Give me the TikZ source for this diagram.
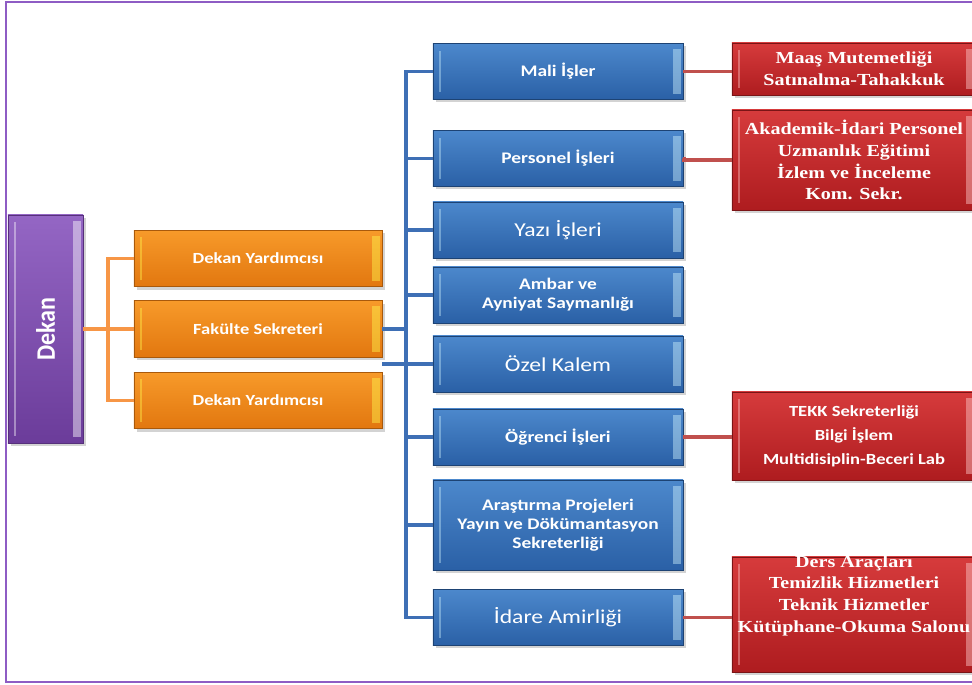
\documentclass[tikz,border=0pt]{standalone}
\usepackage{fontspec}
\setmainfont{Carlito}[FakeStretch=1.2]
\newfontfamily\serifbox{Liberation Serif}[FakeStretch=1.19]
\newfontfamily\dekanfont{Carlito}[FakeStretch=0.9]
\usetikzlibrary{shadows}

\definecolor{frameViolet}{HTML}{8E5CC4}
\definecolor{dekanTop}{HTML}{9466C4}
\definecolor{dekanBot}{HTML}{6B3C9A}
\definecolor{orTop}{HTML}{F79A2A}
\definecolor{orBot}{HTML}{E2770F}
\definecolor{orLine}{HTML}{F79646}
\definecolor{blTop}{HTML}{4C88CC}
\definecolor{blBot}{HTML}{2A60A6}
\definecolor{blLine}{HTML}{3E6FB5}
\definecolor{rdTop}{HTML}{D63B3C}
\definecolor{rdBot}{HTML}{AE1C1F}
\definecolor{rdLine}{HTML}{C0504D}

\tikzset{
  bevel/.style={path picture={
    \fill[#1, opacity=0.4] ([xshift=4pt,yshift=-5pt]path picture bounding box.north west) rectangle ([xshift=5.5pt,yshift=5pt]path picture bounding box.south west);
    \fill[#1, opacity=0.45] ([xshift=-7pt,yshift=-4pt]path picture bounding box.north east) rectangle ([xshift=-1.5pt,yshift=4pt]path picture bounding box.south east);
  }},
  box/.style={rectangle, text=white, align=center, inner sep=2pt, line width=0.6pt,
    drop shadow={opacity=0.35, shadow xshift=2pt, shadow yshift=-2pt}},
  purplebox/.style={box, top color=dekanTop, bottom color=dekanBot, draw=dekanBot!80!black,
    bevel=white, minimum width=1.875cm, minimum height=5.7cm,
    font=\dekanfont\fontsize{19}{21}\selectfont\bfseries},
  orangebox/.style={box, top color=orTop, bottom color=orBot, draw=orBot!75!black,
    bevel=yellow!70!white, minimum width=6.2cm, minimum height=1.41cm,
    font=\fontsize{11}{13.5}\selectfont\bfseries},
  bluebox/.style={box, top color=blTop, bottom color=blBot, draw=blBot!70!black,
    bevel=cyan!20!white, minimum width=6.25cm, minimum height=1.4cm,
    font=\fontsize{11.5}{13.5}\selectfont\bfseries},
  bigblue/.style={bluebox, font=\fontsize{14}{16}\selectfont},
  redbox/.style={box, top color=rdTop, bottom color=rdBot, draw=rdBot!70!black,
    bevel=red!20!white, minimum width=6.1cm,
    font=\serifbox\fontsize{12}{15.5}\selectfont\bfseries},
  redsans/.style={redbox, font=\fontsize{11}{17}\selectfont\bfseries},
  redtext/.style={text=white, align=center, inner sep=0pt,
    font=\serifbox\fontsize{12}{15.5}\selectfont\bfseries},
  orline/.style={orLine, line width=2.2pt},
  blline/.style={blLine, line width=2.3pt},
  rdline/.style={rdLine, line width=2.6pt}
}

\begin{document}
\begin{tikzpicture}[x=0.025cm, y=-0.025cm]
    \useasboundingbox (0,0) rectangle (972,684);

    % Frame
    \draw[frameViolet, line width=1.6pt] (6,2) rectangle (995,682);

    % Dekan and the level below
    \node (dekan) [purplebox] at (45.5,329) {\rotatebox{90}{Dekan}};
    \node (dy1) [orangebox] at (258,258.5) {Dekan Yardımcısı};
    \node (fs)  [orangebox] at (258,329)   {Fakülte Sekreteri};
    \node (dy2) [orangebox] at (258,400.5) {Dekan Yardımcısı};

    % Units under the Fakulte Sekreteri
    \node (mali)      [bluebox] at (558,71.5)  {Mali İşler};
    \node (personel)  [bluebox] at (558,158.5) {Personel İşleri};
    \node (yazi)      [bigblue] at (558,230)   {Yazı İşleri};
    \node (ambar)     [bluebox] at (558,295)   {Ambar ve\\Ayniyat Saymanlığı};
    \node (ozel)      [bigblue] at (558,364)   {Özel Kalem};
    \node (ogrenci)   [bluebox] at (558,437)   {Öğrenci İşleri};
    \node (arastirma) [bluebox, minimum height=2.25cm] at (558,525)
        {Araştırma Projeleri\\Yayın ve Dökümantasyon\\Sekreterliği};
    \node (idare)     [bigblue] at (558,617.5) {İdare Amirliği};

    % Sub units
    \node (maasR)  [redbox, minimum height=1.3cm] at (854,69)
        {Maaş Mutemetliği\\Satınalma-Tahakkuk};
    \node (akadR)  [redbox, minimum height=2.5cm] at (854,160)
        {Akademik-İdari Personel\\Uzmanlık Eğitimi\\İzlem ve İnceleme\\Kom. Sekr.};
    \node (ogrR)   [redsans, minimum height=2.2cm] at (854,436)
        {TEKK Sekreterliği\\Bilgi İşlem\\Multidisiplin-Beceri Lab};
    \node (idareR) [redbox, minimum height=2.875cm] at (854,614.5) {};
    \node (idareT) [redtext] at ([yshift=0.47cm]idareR.center)
        {Ders Araçları\\Temizlik Hizmetleri\\Teknik Hizmetler\\Kütüphane-Okuma Salonu};

    % Orange connectors
    \coordinate (ojoint) at (108,329);
    \draw[orline] (dekan.east) -- (fs.west);
    \draw[orline] (dy1.west) -- (dy1.west -| ojoint) -- (dy2.west -| ojoint) -- (dy2.west);

    % Blue connectors
    \coordinate (bjoint) at (406,329);
    \draw[blline] (mali.west) -- (mali.west -| bjoint) -- (idare.west -| bjoint) -- (idare.west);
    \foreach \n in {personel, yazi, ambar, ogrenci, arastirma}
        \draw[blline] (\n.west) -- (\n.west -| bjoint);
    \draw[blline] (fs.east) -- (bjoint);
    \draw[blline] (ozel.west) -- (ozel.west -| fs.east);

    % Red connectors
    \draw[rdline] (mali.east) -- (mali.east -| maasR.west);
    \draw[rdline] (personel.east) -- ++(0.55,0) |- (akadR.west);
    \draw[rdline] (ogrenci.east) -- (ogrenci.east -| ogrR.west);
    \draw[rdline] (idare.east) -- (idare.east -| idareR.west);
\end{tikzpicture}
\end{document}
